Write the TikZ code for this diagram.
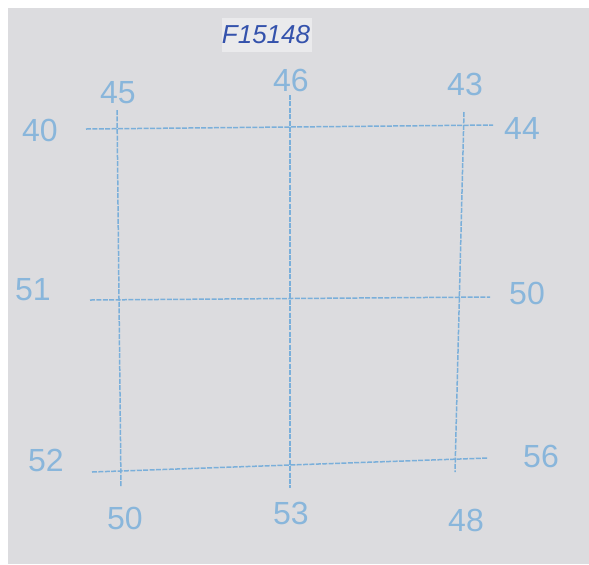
\documentclass[tikz,border=0pt]{standalone}
\usepackage{fontspec}
\setmainfont{Liberation Sans}
\definecolor{paper}{RGB}{220,220,223}
\definecolor{tab}{RGB}{234,234,236}
\definecolor{pencil}{RGB}{122,175,218}
\definecolor{ink}{RGB}{52,82,172}
\tikzset{
  gridline/.style={pencil, line width=0.75pt, dash pattern=on 2.5pt off 0.7pt},
  reading/.style={text=pencil!85!paper, font=\fontsize{16}{16}\selectfont, inner sep=0pt},
}

\begin{document}
\begin{tikzpicture}[x=0.5pt,y=-0.5pt]
      \useasboundingbox (0,0) rectangle (589,564);
      \fill[white] (0,0) rectangle (589,564);
      \fill[paper] (8,8) rectangle (589,564);
      \fill[tab] (222,18) rectangle (312,52);
      \node[text=ink, font=\fontsize{13}{13}\selectfont\itshape, inner sep=0pt] (sample) at (266,35) {F15148};
      % ends of the pencil lines
      \coordinate (top-w) at (86,129);   \coordinate (top-e) at (493,125);
      \coordinate (mid-w) at (90,300);   \coordinate (mid-e) at (490,297);
      \coordinate (bot-w) at (92,472);   \coordinate (bot-e) at (488,458);
      \coordinate (left-n) at (117,110); \coordinate (left-s) at (121,487);
      \coordinate (cen-n) at (290,95);   \coordinate (cen-s) at (290,488);
      \coordinate (right-n) at (464,112); \coordinate (right-s) at (455,472);
      \draw[gridline] (top-w) -- (top-e);
      \draw[gridline] (mid-w) -- (mid-e);
      \draw[gridline] (bot-w) -- (bot-e);
      \draw[gridline] (left-n) -- (left-s);
      \draw[gridline] (cen-n) -- (cen-s);
      \draw[gridline] (right-n) -- (right-s);
      % readings round the grid
      \node[reading] (n1) at (118,93) {45};
      \node[reading] (n2) at (291,80) {46};
      \node[reading] (n3) at (465,84) {43};
      \node[reading] (w1) at (40,130) {40};
      \node[reading] (w2) at (33,290) {51};
      \node[reading] (w3) at (46,460) {52};
      \node[reading] (e1) at (522,128) {44};
      \node[reading] (e2) at (527,293) {50};
      \node[reading] (e3) at (541,456) {56};
      \node[reading] (s1) at (125,518) {50};
      \node[reading] (s2) at (291,513) {53};
      \node[reading] (s3) at (466,520) {48};
    \end{tikzpicture}
\end{document}
